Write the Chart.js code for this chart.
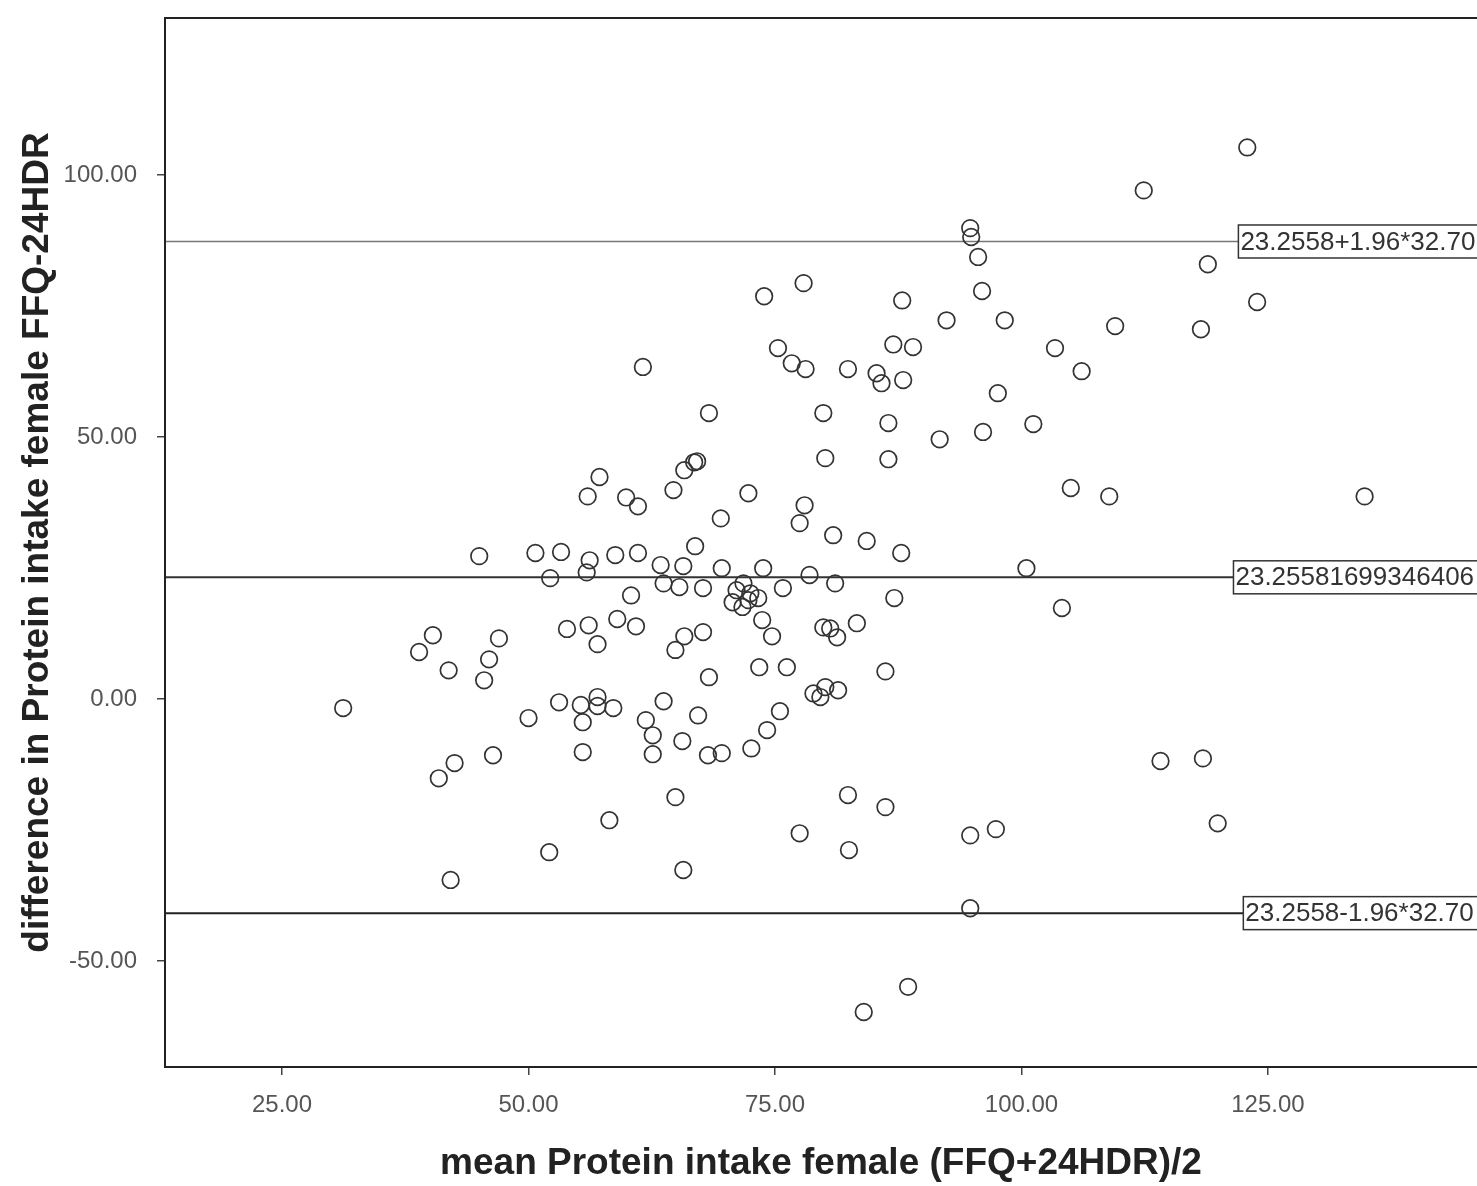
<!DOCTYPE html>
<html>
<head>
<meta charset="utf-8">
<script src="https://cdn.jsdelivr.net/npm/chart.js@4.4.1/dist/chart.umd.min.js"></script>
<style>
  body { margin: 0; background: #fff; }
  canvas { display: block; }
</style>
</head>
<body>
<canvas id="ba" width="1477" height="1186"></canvas>
<script>
// mean of the two methods (x) and their difference (y)
const meanIntake = [
  122.9, 112.4, 94.8, 94.9, 95.6, 118.9, 123.9, 118.2, 96.0, 87.9,
  92.4, 98.3, 109.5, 73.9, 77.9, 75.3, 76.7, 78.1, 82.4, 85.3,
  85.8, 87.0, 89.0, 88.0, 103.4, 106.1, 61.6, 97.6, 68.3, 79.9,
  86.5, 91.7, 96.1, 101.2, 80.1, 86.5, 66.8, 67.1, 65.8, 57.2,
  56.0, 59.9, 61.1, 64.7, 72.3, 78.0, 77.5, 69.5, 105.0, 108.9,
  134.8, 80.9, 84.3, 66.9, 87.8, 45.0, 50.7, 53.3, 56.2, 55.9,
  58.8, 61.1, 52.2, 63.4, 65.7, 69.6, 73.8, 78.5, 81.1, 63.7,
  65.3, 67.7, 75.8, 100.5, 71.8, 71.1, 72.5, 73.3, 70.7, 71.7,
  72.3, 60.4, 87.1, 104.1, 59.0, 60.9, 56.1, 53.9, 73.7, 74.7,
  79.9, 80.6, 81.3, 83.3, 67.7, 65.8, 64.9, 40.3, 38.9, 41.9,
  47.0, 46.0, 45.5, 57.0, 73.4, 76.2, 86.2, 68.3, 31.2, 53.1,
  55.3, 55.5, 57.0, 57.0, 58.6, 50.0, 63.7, 61.9, 67.2, 75.5,
  78.9, 79.6, 80.1, 81.4, 62.6, 65.6, 74.2, 42.5, 40.9, 46.4,
  55.5, 62.6, 68.2, 69.6, 72.6, 58.2, 64.9, 82.4, 86.2, 77.5,
  94.8, 97.4, 114.1, 118.4, 119.9, 52.1, 82.5, 42.1, 65.7, 94.8,
  88.5, 84.0
];
const diffIntake = [
  105.3, 97.1, 89.9, 88.2, 84.4, 83.0, 75.8, 70.6, 77.9, 76.1,
  72.3, 72.3, 71.2, 76.9, 79.4, 67.0, 64.1, 63.0, 63.0, 62.2,
  60.3, 67.7, 67.2, 60.9, 67.0, 62.6, 63.4, 58.4, 54.6, 54.6,
  52.7, 49.6, 51.0, 52.5, 46.0, 45.8, 45.2, 45.4, 43.7, 42.4,
  38.7, 38.5, 36.8, 39.9, 39.3, 37.0, 33.6, 34.5, 40.3, 38.7,
  38.7, 31.3, 30.2, 29.2, 27.9, 27.3, 27.9, 28.1, 26.5, 24.2,
  27.5, 27.9, 23.1, 25.6, 25.4, 25.0, 25.0, 23.7, 22.1, 22.1,
  21.4, 21.2, 21.2, 25.0, 22.1, 20.8, 20.2, 19.3, 18.5, 17.6,
  18.9, 19.8, 19.3, 17.4, 15.3, 13.9, 14.1, 13.4, 15.1, 12.0,
  13.7, 13.5, 11.8, 14.5, 12.8, 12.0, 9.4, 12.2, 9.0, 5.5,
  11.6, 7.6, 3.6, 10.5, 6.1, 6.1, 5.3, 4.2, -1.7, -0.6,
  -1.1, -4.4, 0.4, -1.3, -1.7, -3.6, -0.4, -4.0, -3.1, -2.3,
  1.1, 0.4, 2.3, 1.7, -6.9, -8.0, -5.9, -12.2, -15.1, -10.7,
  -10.1, -10.5, -10.7, -10.3, -9.4, -23.1, -18.7, -18.3, -20.6, -25.6,
  -26.0, -24.8, -11.8, -11.3, -23.7, -29.2, -28.8, -34.5, -32.6, -39.9,
  -54.9, -59.7
];

// reference lines: mean difference and limits of agreement
const refValues = [87.3478, 23.25581699346406, -40.8364];
const refLabels = ['23.2558+1.96*32.70', '23.25581699346406', '23.2558-1.96*32.70'];
const refLabelX = [122.0, 121.5, 122.5];
const refColors = ['#777', '#333', '#222'];

const xTicks = [25, 50, 75, 100, 125];
const yTicks = [-50, 0, 50, 100];
const xMin = 13.13, xMax = 146.2;
const yMin = -70.2, yMax = 130.0;

const FONT = '"Liberation Sans", Arial, sans-serif';

const refDatasets = refValues.map((v, i) => ({
  type: 'line',
  data: [{ x: xMin, y: v }, { x: xMax, y: v }],
  borderColor: refColors[i],
  borderWidth: i === 0 ? 1.5 : 2,
  pointRadius: 0,
  fill: false
}));

const framePlugin = {
  id: 'frame',
  afterDatasetsDraw(chart) {
    const { ctx, chartArea: a, scales } = chart;
    ctx.save();
    // label boxes on the reference lines
    ctx.font = '26px ' + FONT;
    ctx.textBaseline = 'middle';
    refValues.forEach((v, i) => {
      const px = scales.x.getPixelForValue(refLabelX[i]);
      const py = scales.y.getPixelForValue(v);
      const h = 33;
      ctx.fillStyle = '#fff';
      ctx.fillRect(px, py - h / 2, 400, h);
      ctx.strokeStyle = '#333';
      ctx.lineWidth = 1.5;
      ctx.strokeRect(px, py - h / 2, 400, h);
      ctx.fillStyle = '#333';
      ctx.fillText(refLabels[i], px + 2, py + 1);
    });
    // plot frame
    ctx.strokeStyle = '#222';
    ctx.lineWidth = 2;
    ctx.strokeRect(a.left, a.top, a.right - a.left + 4, a.bottom - a.top);
    ctx.restore();
  }
};

new Chart(document.getElementById('ba'), {
  type: 'scatter',
  data: {
    datasets: [{
      data: meanIntake.map((x, i) => ({ x: x, y: diffIntake[i] })),
      pointStyle: 'circle',
      pointRadius: 8.3,
      pointBorderWidth: 1.7,
      borderColor: '#333',
      backgroundColor: 'rgba(0,0,0,0)'
    }].concat(refDatasets)
  },
  options: {
    responsive: false,
    animation: false,
    layout: { autoPadding: false, padding: { top: 18, right: 0, left: 0, bottom: 0 } },
    plugins: { legend: { display: false }, tooltip: { enabled: false } },
    scales: {
      x: {
        type: 'linear',
        min: xMin,
        max: xMax,
        afterFit(s) { s.height = 119; s.paddingLeft = 0; s.paddingRight = 0; },
        afterBuildTicks(s) { s.ticks = xTicks.map(v => ({ value: v })); },
        border: { display: false },
        grid: { drawOnChartArea: false, drawTicks: true, tickLength: 8, color: '#444', lineWidth: 1.5 },
        ticks: {
          padding: 16,
          color: '#555',
          font: { family: FONT, size: 24 },
          callback: v => v.toFixed(2)
        },
        title: {
          display: true,
          text: 'mean Protein intake female (FFQ+24HDR)/2',
          color: '#222',
          font: { family: FONT, size: 37, weight: 'bold' },
          padding: { bottom: 0 }
        }
      },
      y: {
        type: 'linear',
        min: yMin,
        max: yMax,
        afterFit(s) { s.width = 165; s.paddingTop = 0; s.paddingBottom = 0; },
        afterBuildTicks(s) { s.ticks = yTicks.map(v => ({ value: v })); },
        border: { display: false },
        grid: { drawOnChartArea: false, drawTicks: true, tickLength: 8, color: '#444', lineWidth: 1.5 },
        ticks: {
          padding: 20,
          color: '#555',
          font: { family: FONT, size: 24 },
          callback: v => v.toFixed(2)
        },
        title: {
          display: true,
          text: 'difference in Protein intake female FFQ-24HDR',
          color: '#222',
          font: { family: FONT, size: 37, weight: 'bold' },
          padding: { top: 15.5 }
        }
      }
    }
  },
  plugins: [framePlugin]
});
</script>
</body>
</html>
